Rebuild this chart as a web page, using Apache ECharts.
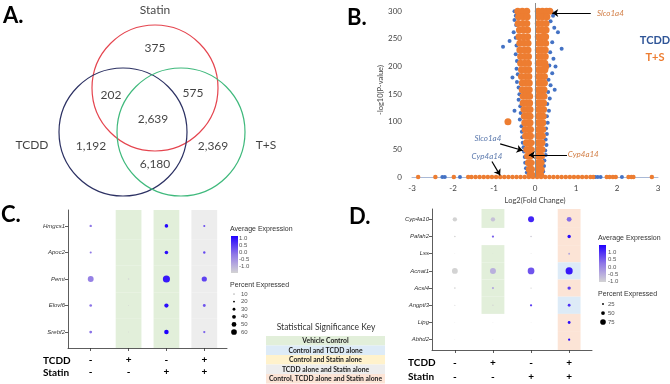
<!DOCTYPE html>
<html>
<head>
<meta charset="utf-8">
<script src="https://cdn.jsdelivr.net/npm/echarts@6/dist/echarts.min.js"></script>
<style>
html,body{margin:0;padding:0;background:#fff;}
#main{width:670px;height:384px;}
</style>
</head>
<body>
<div id="main"></div>
<script>
// ---------- data ----------
// A. venn
var vennSets = ['Statin', 'TCDD', 'T+S'];
var vennCounts = [375, 202, 575, 2639, 1192, 6180, 2369];
// B. volcano  [log2FC, -log10 p]
var tcddPoints = [
  [-0.5,300],[-0.47,292],[-0.5,284],[-0.46,275],[-0.52,262],[-0.47,252],[-0.62,246],[-0.78,236],[-0.45,238],
  [-0.47,222],[-0.44,210],[-0.45,196],[-0.42,186],[-0.55,180],[-0.44,172],[-0.4,162],[-0.38,150],[-0.4,140],
  [-0.36,128],[-0.5,120],[-0.35,116],[-0.37,104],[-0.33,92],[-0.32,82],[-0.31,72],[-0.3,62],[-0.28,54],
  [-0.27,46],[-0.25,36],[-0.24,26],[-0.22,16],[-0.2,8],
  [0.4,300],[0.44,292],[0.38,282],[0.47,270],[0.56,262],[0.65,232],[0.42,244],[0.37,226],[0.45,214],
  [0.5,200],[0.35,202],[0.42,188],[0.33,176],[0.38,166],[0.48,158],[0.32,154],[0.36,142],[0.3,132],
  [0.34,120],[0.29,110],[0.31,98],[0.27,88],[0.29,78],[0.26,68],[0.28,58],[0.25,48],[0.26,40],
  [0.23,30],[0.22,20],[0.2,10],
  [-2.26,0],[-2.2,0],[-1.83,0],[1.47,0],[1.53,0],[1.6,0],[2.12,0]
];
var tsPoints = [
  [-0.42,300],[-0.31,300],[-0.2,300],[-0.4,290],[-0.29,290],[-0.19,290],[-0.41,278],[-0.3,278],[-0.2,278],
  [-0.38,266],[-0.28,266],[-0.18,266],[-0.39,254],[-0.28,254],[-0.18,254],[-0.37,242],[-0.27,242],[-0.17,242],
  [-0.37,230],[-0.26,230],[-0.17,230],[-0.35,218],[-0.25,218],[-0.16,218],[-0.35,206],[-0.25,206],[-0.16,206],
  [-0.33,194],[-0.24,194],[-0.15,194],[-0.33,182],[-0.23,182],[-0.15,182],[-0.31,170],[-0.22,170],[-0.14,170],
  [-0.31,158],[-0.22,158],[-0.14,158],[-0.29,146],[-0.21,146],[-0.13,146],[-0.29,134],[-0.2,134],[-0.13,134],
  [-0.27,122],[-0.19,122],[-0.12,122],[-0.26,110],[-0.18,110],[-0.12,110],[-0.25,98],[-0.17,98],[-0.12,98],
  [-0.24,86],[-0.16,86],[-0.11,86],[-0.23,74],[-0.15,74],[-0.11,74],[-0.21,62],[-0.14,62],[-0.1,62],
  [-0.2,50],[-0.13,50],[-0.1,50],[-0.18,38],[-0.12,38],[-0.16,26],[-0.1,26],[-0.14,14],[-0.09,14],[-0.12,4],[-0.08,4],
  [0.08,300],[0.18,300],[0.28,300],[0.36,300],[0.09,290],[0.19,290],[0.29,290],[0.08,278],[0.17,278],[0.27,278],
  [0.09,266],[0.18,266],[0.27,266],[0.08,254],[0.17,254],[0.26,254],[0.09,242],[0.17,242],[0.26,242],
  [0.08,230],[0.16,230],[0.25,230],[0.09,218],[0.17,218],[0.25,218],[0.08,206],[0.16,206],[0.24,206],
  [0.09,194],[0.16,194],[0.24,194],[0.08,182],[0.15,182],[0.23,182],[0.09,170],[0.16,170],[0.23,170],
  [0.08,158],[0.15,158],[0.22,158],[0.08,146],[0.15,146],[0.22,146],[0.08,134],[0.14,134],[0.21,134],
  [0.08,122],[0.14,122],[0.21,122],[0.08,110],[0.14,110],[0.2,110],[0.08,98],[0.13,98],[0.19,98],
  [0.08,86],[0.13,86],[0.19,86],[0.07,74],[0.13,74],[0.18,74],[0.07,62],[0.12,62],[0.17,62],
  [0.07,50],[0.12,50],[0.17,50],[0.07,38],[0.12,38],[0.16,38],[0.07,26],[0.11,26],[0.15,26],
  [0.07,14],[0.11,14],[0.15,14],[0.07,4],[0.11,4],[0.14,4],
  [-0.66,100],[0.22,255],[0.26,200],
  [-2.85,0],[-2.43,0],[-1.98,0],[-1.63,0],
  [-1.55,0],[-1.45,0],[-1.35,0],[-1.25,0],[-1.15,0],[-1.05,0],[-0.95,0],[-0.85,0],[-0.75,0],[-0.65,0],
  [-0.55,0],[-0.45,0],[-0.35,0],[-0.25,0],[-0.15,0],[-0.05,0],[0.05,0],[0.15,0],[0.25,0],[0.35,0],
  [0.45,0],[0.55,0],[0.65,0],[0.75,0],[0.85,0],[0.95,0],[1.05,0],[1.15,0],[1.25,0],[1.35,0],[1.42,0],
  [1.75,0],[1.82,0],[1.9,0],[1.97,0],[2.28,0],[2.35,0],[2.4,0],[2.85,0]
];
var volcanoGenes = ['Slco1a4', 'Slco1a4', 'Cyp4a14', 'Cyp4a14'];

// C / D dot plots
var tcddSigns = ['-', '+', '-', '+'];
var statinSigns = ['-', '-', '+', '+'];
var genesC = ['Hmgcs1', 'Apoc2', 'Pemt', 'Elovl6', 'Srebf2'];
var avgC = [
  [0.0, null, 0.95, 0.35],
  [0.0, null, 0.9, 0.4],
  [-0.1, -1.0, 0.8, 0.45],
  [0.05, -1.0, 0.9, 0.3],
  [0.05, -1.0, 1.0, 0.2]
];
var pctC = [
  [25, 0, 38, 22],
  [22, 0, 38, 25],
  [62, 15, 75, 55],
  [28, 10, 45, 30],
  [30, 10, 48, 24]
];
var genesD = ['Cyp4a10', 'Pafah2', 'Lss', 'Acnat1', 'Acsl4', 'Angptl3', 'Lipg', 'Abhd2'];
var avgD = [
  [-1.0, -0.8, 0.7, 0.1],
  [-1.0, 0.2, -0.9, 0.9],
  [-1.0, -1.0, -1.0, -0.5],
  [-1.0, -0.6, 0.3, 0.8],
  [-1.0, -0.5, -1.0, 0.5],
  [-1.0, -1.0, 0.5, 0.6],
  [-1.0, -1.0, -1.0, 0.9],
  [-1.0, -1.0, -1.0, 0.9]
];
var pctD = [
  [58, 58, 80, 65],
  [22, 30, 22, 45],
  [8, 5, 10, 25],
  [78, 80, 90, 95],
  [22, 28, 18, 45],
  [15, 18, 30, 38],
  [8, 8, 8, 38],
  [8, 8, 8, 30]
];
// significance key index per cell (null = none)
var sigC = [
  [null, 0, 0, 3],[null, 0, 0, 3],[null, 0, 0, 3],[null, 0, 0, 3],[null, 0, 0, 3]
];
var sigD = [
  [null, 0, null, 4],
  [null, null, null, 4],
  [null, 0, null, 4],
  [null, 0, null, 1],
  [null, 0, null, 4],
  [null, 0, null, 1],
  [null, null, null, 4],
  [null, null, null, 4]
];
var keyLabels = ['Vehicle Control', 'Control and TCDD alone', 'Control and Statin alone',
  'TCDD alone and Statin alone', 'Control, TCDD alone and Statin alone'];
var avgTicks = [1.0, 0.5, 0.0, -0.5, -1.0];
var pctLegendC = [10, 20, 30, 40, 50, 60];
var pctLegendD = [25, 50, 75];

// ---------- layout & style ----------
var vennColors = ['#e5454f', '#2c3163', '#3fb97c'];
var vennCircles = [[155, 88, 63], [123, 132, 64], [181, 132, 64]];
var vennNamePos = [[155, 10], [32, 145], [266, 145]];
var vennCountPos = [[155, 48], [111, 95], [193, 93], [153, 119], [91, 146], [155, 164], [213, 146]];
var annoColors = ['#c55a11', '#2f5597', '#c55a11', '#2f5597'];
var annoPos = [[1.51, 296], [-1.15, 70], [0.8, 40], [-1.17, 38]];
var annoAlign = ['left', 'center', 'left', 'center'];
var arrows = [
  [[1.36, 297], [0.42, 297]],
  [[-0.85, 60], [-0.3, 48]],
  [[0.78, 40], [-0.15, 40]],
  [[-1.05, 28], [-0.85, 3]]
];
var keyColors = ['#e2efda', '#ddebf7', '#fff2cc', '#ededed', '#fce4d6'];
var expColors = ['#d3d3d3', '#b3a6df', '#8f78e6', '#5a3cf2', '#1f00ff'];
var sizeC = function (p) { return p * 0.095; };
var sizeD = function (p) { return p * 0.075; };

function fmt(n) { return String(n).replace(/\B(?=(\d{3})+(?!\d))/g, ','); }

var myChart = echarts.init(document.getElementById('main'));

function dotData(avg, pct) {
  var out = [];
  for (var r = 0; r < avg.length; r++) {
    for (var c = 0; c < avg[r].length; c++) {
      if (avg[r][c] !== null && pct[r][c] > 0) out.push([c + 1, r + 1, avg[r][c], pct[r][c]]);
    }
  }
  return out;
}
function shadeData(sig, half, ymax) {
  var out = [];
  for (var r = 0; r < sig.length; r++) {
    for (var c = 0; c < sig[r].length; c++) {
      var k = sig[r][c];
      if (k === null) continue;
      var y0 = r === 0 ? 0.4 : r + 0.5;
      var y1 = r === sig.length - 1 ? ymax : r + 1.5;
      out.push([
        { xAxis: c + 1 - half, yAxis: y0, itemStyle: { color: keyColors[k] } },
        { xAxis: c + 1 + half, yAxis: y1 }
      ]);
    }
  }
  return out;
}
function dotAxes(grid, genes) {
  var n = genes.length, ticksY = [], ticksX = [1, 2, 3, 4];
  for (var i = 1; i <= n; i++) ticksY.push(i);
  var line = { show: true, onZero: false, lineStyle: { color: '#333', width: 0.8 } };
  return {
    x: {
      type: 'value', gridIndex: grid, min: 0.4, max: 4.6,
      axisLine: line,
      axisTick: { show: true, length: 3, customValues: ticksX, lineStyle: { color: '#333', width: 0.8 } },
      axisLabel: {
        show: true, customValues: ticksX, margin: 6, color: '#000',
        fontFamily: 'Lato', fontWeight: 'bold', fontSize: 10, lineHeight: grid === 2 ? 12 : 14,
        formatter: function (v) { return tcddSigns[v - 1] + '\n' + statinSigns[v - 1]; }
      },
      splitLine: { show: false }
    },
    y: {
      type: 'value', gridIndex: grid, min: 0.4, max: n + 0.6, inverse: true,
      axisLine: line,
      axisTick: { show: true, length: 3, customValues: ticksY, lineStyle: { color: '#333', width: 0.8 } },
      axisLabel: {
        show: true, customValues: ticksY, margin: 3, color: '#333',
        fontFamily: 'Liberation Sans', fontStyle: 'italic', fontSize: 6,
        formatter: function (v) { return genes[v - 1]; }
      },
      splitLine: { show: false }
    }
  };
}
var axC = dotAxes(2, genesC), axD = dotAxes(3, genesD);

var hidden = { show: false };
var option = {
  animation: false,
  backgroundColor: '#fff',
  grid: [
    { left: 0, top: 0, width: 335, height: 200 },
    { left: 412, top: 3, width: 246, height: 174 },
    { left: 68, top: 210, width: 159, height: 138 },
    { left: 432, top: 209, width: 160, height: 141 }
  ],
  xAxis: [
    { type: 'value', gridIndex: 0, min: 0, max: 335, axisLine: hidden, axisTick: hidden, axisLabel: hidden, splitLine: hidden },
    {
      type: 'value', gridIndex: 1, min: -3, max: 3, interval: 1,
      axisLine: { show: true, lineStyle: { color: '#a9b9d6', width: 1 } },
      axisTick: hidden, splitLine: hidden,
      axisLabel: { fontFamily: 'Lato', fontSize: 8, color: '#444', margin: 7 },
      name: 'Log2(Fold Change)', nameLocation: 'middle', nameGap: 20,
      nameTextStyle: { fontFamily: 'Lato', fontSize: 7.5, color: '#444' }
    },
    axC.x, axD.x
  ],
  yAxis: [
    { type: 'value', gridIndex: 0, min: 0, max: 200, inverse: true, axisLine: hidden, axisTick: hidden, axisLabel: hidden, splitLine: hidden },
    {
      type: 'value', gridIndex: 1, min: 0, max: 315, interval: 50,
      axisLine: hidden, axisTick: hidden, splitLine: hidden,
      axisLabel: { fontFamily: 'Lato', fontSize: 8, color: '#444', margin: 10, showMaxLabel: false },
      name: '-log10(P-value)', nameLocation: 'middle', nameGap: 26, nameRotate: 90,
      nameTextStyle: { fontFamily: 'Lato', fontSize: 7.5, color: '#444' }
    },
    axC.y, axD.y
  ],
  visualMap: [{
    type: 'continuous', show: false, min: -1, max: 1, dimension: 2,
    seriesIndex: [6, 8], inRange: { color: expColors }
  }],
  series: [
    // 0 venn circles
    {
      type: 'scatter', xAxisIndex: 0, yAxisIndex: 0, silent: true, symbol: 'circle',
      data: vennCircles.map(function (c, i) {
        return { value: [c[0], c[1]], symbolSize: c[2] * 2,
          itemStyle: { color: 'rgba(0,0,0,0)', borderColor: vennColors[i], borderWidth: 1.2, opacity: 1 } };
      })
    },
    // 1 venn texts
    {
      type: 'scatter', xAxisIndex: 0, yAxisIndex: 0, silent: true, symbolSize: 0,
      data: vennCounts.map(function (n, i) { return { name: fmt(n), value: vennCountPos[i] }; })
        .concat(vennSets.map(function (s, i) { return { name: s, value: vennNamePos[i] }; })),
      label: { show: true, position: 'inside', formatter: '{b}', fontFamily: 'Lato', fontSize: 12, color: '#111' }
    },
    // 2 TCDD volcano
    {
      type: 'scatter', xAxisIndex: 1, yAxisIndex: 1, silent: true, symbolSize: 4,
      itemStyle: { color: '#4472c4', opacity: 1 }, data: tcddPoints,
      markLine: {
        silent: true, symbol: 'none', label: { show: false },
        lineStyle: { color: '#8c8c8c', width: 1, type: 'solid' },
        data: [{ xAxis: 0 }]
      }
    },
    // 3 T+S volcano (points on the baseline drawn a little smaller)
    {
      type: 'scatter', xAxisIndex: 1, yAxisIndex: 1, silent: true,
      symbolSize: function (v) { return v[1] === 0 ? 4.5 : 7; },
      itemStyle: { color: '#ed7d31', opacity: 1 }, data: tsPoints
    },
    // 4 annotations
    {
      type: 'scatter', xAxisIndex: 1, yAxisIndex: 1, silent: true, symbolSize: 0, z: 5,
      data: volcanoGenes.map(function (g, i) {
        return { name: g, value: annoPos[i],
          label: { color: annoColors[i], align: annoAlign[i], position: annoAlign[i] === 'left' ? 'right' : 'inside' } };
      }),
      label: { show: true, formatter: '{b}', fontFamily: 'Lato', fontStyle: 'italic', fontSize: 8, distance: 0 },
      markLine: {
        silent: true, symbol: ['none', 'arrow'], symbolSize: 6, label: { show: false },
        lineStyle: { color: '#000', width: 1.2, type: 'solid' },
        data: arrows.map(function (a) { return [{ coord: a[0] }, { coord: a[1] }]; })
      }
    },
    // 5 C shading
    {
      type: 'scatter', xAxisIndex: 2, yAxisIndex: 2, silent: true, z: 1, data: [],
      markArea: { silent: true, data: shadeData(sigC, 0.34, 5.6) }
    },
    // 6 C dots
    {
      type: 'scatter', xAxisIndex: 2, yAxisIndex: 2, silent: true, z: 3,
      itemStyle: { opacity: 1 },
      data: dotData(avgC, pctC), symbolSize: function (v) { return sizeC(v[3]); }
    },
    // 7 D shading
    {
      type: 'scatter', xAxisIndex: 3, yAxisIndex: 3, silent: true, z: 1, data: [],
      markArea: { silent: true, data: shadeData(sigD, 0.3, 8.6) }
    },
    // 8 D dots
    {
      type: 'scatter', xAxisIndex: 3, yAxisIndex: 3, silent: true, z: 3,
      itemStyle: { opacity: 1 },
      data: dotData(avgD, pctD), symbolSize: function (v) { return sizeD(v[3]); }
    }
  ]
};

// ---------- annotations / legends ----------
var g = [];
function txt(x, y, s, font, fill, align) {
  g.push({ type: 'text', x: x, y: y, silent: true, z: 10,
    style: { text: s, font: font, fill: fill || '#000', textAlign: align || 'left', align: align || 'left',
      textVerticalAlign: 'middle', verticalAlign: 'middle' } });
}
txt(3, 16, 'A.', 'bold 22px Lato');
txt(347, 18, 'B.', 'bold 22px Lato');
txt(1, 215, 'C.', 'bold 22px Lato');
txt(349, 217, 'D.', 'bold 22px Lato');
txt(655, 40, 'TCDD', 'bold 11px Lato', '#2f5597', 'center');
txt(655, 57, 'T+S', 'bold 11px Lato', '#ed7d31', 'center');
// row headers
txt(43, 361, 'TCDD', 'bold 10px Lato');
txt(43, 373, 'Statin', 'bold 10px Lato');
txt(408, 363, 'TCDD', 'bold 10px Lato');
txt(408, 377, 'Statin', 'bold 10px Lato');

function gradLegend(x, y, h, tx, ty, step) {
  var stops = expColors.slice().reverse().map(function (c, i) { return { offset: i / (expColors.length - 1), color: c }; });
  g.push({ type: 'rect', silent: true, shape: { x: x, y: y, width: 7, height: h },
    style: { fill: new echarts.graphic.LinearGradient(0, 0, 0, 1, stops) } });
  avgTicks.forEach(function (t, i) {
    txt(tx, ty + i * step, t.toFixed(1), '6px "Liberation Sans"', '#555');
  });
}
function sizeLegend(vals, fn, dx, lx, y0, step) {
  vals.forEach(function (v, i) {
    g.push({ type: 'circle', silent: true, shape: { cx: dx, cy: y0 + i * step, r: fn(v) / 2 }, style: { fill: '#000' } });
    txt(lx, y0 + i * step, String(v), '6px "Liberation Sans"', '#555');
  });
}
// C legend
txt(230, 229, 'Average Expression', '7px "Liberation Sans"', '#333');
gradLegend(231, 236, 37, 239, 238, 7.2);
txt(230, 285, 'Percent Expressed', '7px "Liberation Sans"', '#333');
sizeLegend(pctLegendC, sizeC, 234, 241, 294, 7.6);
// D legend
txt(598, 238, 'Average Expression', '7px "Liberation Sans"', '#333');
gradLegend(599, 245, 37, 608, 252.5, 7.2);
txt(598, 294, 'Percent Expressed', '7px "Liberation Sans"', '#333');
sizeLegend(pctLegendD, sizeD, 603, 608, 304, 9);
// significance key
txt(326, 327, 'Statistical Significance Key', '8.5px Lato', '#333', 'center');
keyLabels.forEach(function (k, i) {
  g.push({ type: 'rect', silent: true, shape: { x: 266, y: 336 + i * 9.5, width: 119, height: 9.5 },
    style: { fill: keyColors[i] } });
  txt(325.5, 336 + i * 9.5 + 4.9, k, 'bold 6.8px Lato', '#222', 'center');
});
option.graphic = g;

myChart.setOption(option, true);
</script>
</body>
</html>
